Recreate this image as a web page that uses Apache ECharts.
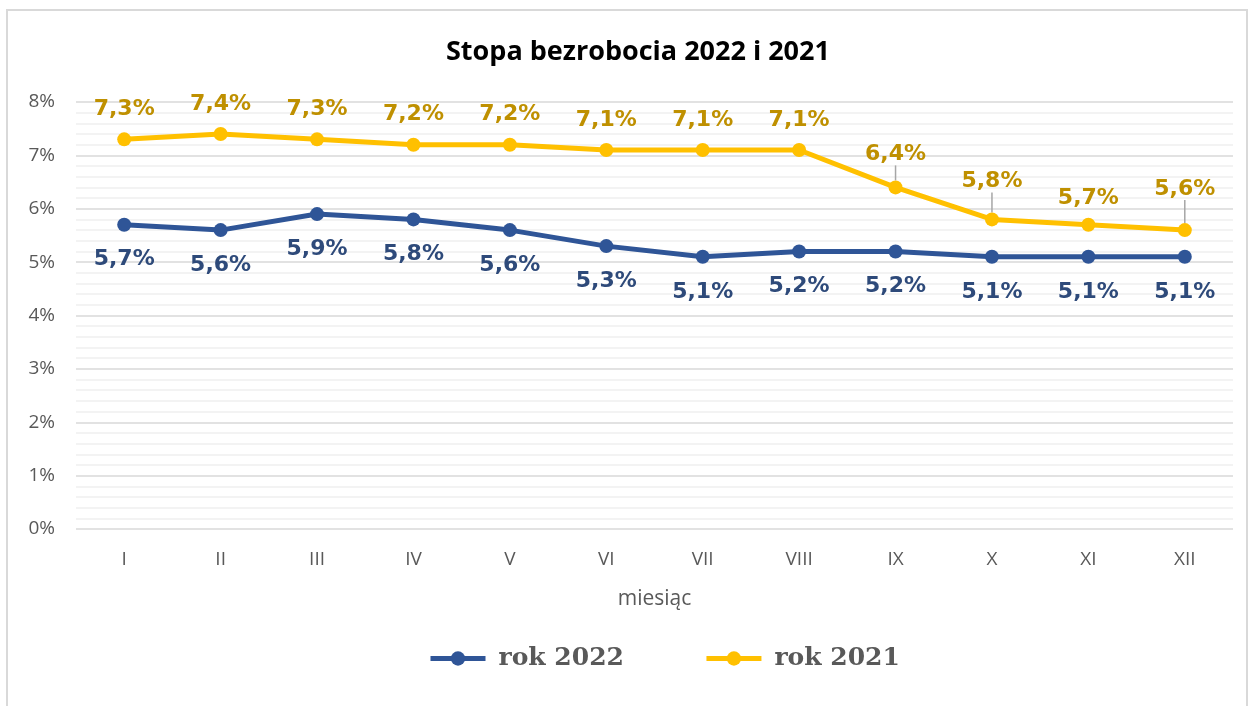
<!DOCTYPE html>
<html>
<head>
<meta charset="utf-8">
<script src="https://cdn.jsdelivr.net/npm/echarts@6/dist/echarts.min.js"></script>
<style>
html,body{margin:0;padding:0;background:#fff;}
#chart{width:1248px;height:706px;}
</style>
</head>
<body>
<div id="chart"></div>
<script>
// dane
var months = ['I','II','III','IV','V','VI','VII','VIII','IX','X','XI','XII'];
var rok2022 = [5.7, 5.6, 5.9, 5.8, 5.6, 5.3, 5.1, 5.2, 5.2, 5.1, 5.1, 5.1];
var rok2021 = [7.3, 7.4, 7.3, 7.2, 7.2, 7.1, 7.1, 7.1, 6.4, 5.8, 5.7, 5.6];
var yTicks = [0, 1, 2, 3, 4, 5, 6, 7, 8];

// przesunięcia etykiet 2021 (px), i które mają linię odniesienia
var shift2021 = {8: -3, 9: -8, 10: 4, 11: -11};
var leader2021 = [8, 9, 11];

function fmt(p){
	return String(p.value).replace('.', ',') + '%';
}

var myChart = echarts.init(document.getElementById('chart'));

var data2021 = rok2021.map(function(v, i){
	var item = {value: v};
	if (leader2021.indexOf(i) >= 0) {
		item.labelLine = {show: true};
	}
	return item;
});

var option = {
	animation: false,
	graphic: [{
		type: 'rect',
		shape: {x: 7, y: 10, width: 1240, height: 700},
		style: {fill: 'none', stroke: '#D9D9D9', lineWidth: 2},
		silent: true
	}],
	title: {
		text: 'Stopa bezrobocia 2022 i 2021',
		left: 441,
		top: 34,
		textStyle: {fontFamily: 'Open Sans', fontWeight: 'bold', fontSize: 27, color: '#000'}
	},
	grid: {left: 76, right: 15, top: 102, bottom: 177},
	xAxis: {
		type: 'category',
		data: months,
		boundaryGap: true,
		name: 'miesiąc',
		nameLocation: 'middle',
		nameGap: 60,
		nameTextStyle: {fontFamily: 'Open Sans', fontSize: 21, color: '#595959'},
		axisLine: {show: false},
		axisTick: {show: false},
		axisLabel: {margin: 21, fontFamily: 'Open Sans', fontSize: 19, color: '#595959'}
	},
	yAxis: {
		type: 'value',
		min: yTicks[0],
		max: yTicks[yTicks.length - 1],
		interval: 1,
		axisLine: {show: false},
		axisTick: {show: false},
		axisLabel: {margin: 21, fontFamily: 'Open Sans', fontSize: 19, color: '#595959', formatter: '{value}%'},
		splitLine: {lineStyle: {color: '#D9D9D9', width: 1.5}},
		minorTick: {show: false, splitNumber: 5},
		minorSplitLine: {show: true, lineStyle: {color: '#F0F0F0', width: 1.5}}
	},
	legend: {
		bottom: 30,
		left: 423,
		itemWidth: 55,
		itemHeight: 18,
		itemGap: 80,
		lineStyle: {width: 5},
		textStyle: {fontFamily: 'DejaVu Serif', fontWeight: 'bold', fontSize: 25, color: '#595959', padding: [0, 0, 0, 8]},
		data: ['rok 2022', 'rok 2021']
	},
	series: [
		{
			name: 'rok 2022',
			type: 'line',
			data: rok2022,
			symbol: 'circle',
			symbolSize: 14,
			lineStyle: {width: 5, color: '#2F5597'},
			itemStyle: {color: '#2F5597'},
			label: {
				show: true,
				position: 'bottom',
				distance: 17,
				formatter: fmt,
				fontFamily: 'DejaVu Sans',
				fontWeight: 'bold',
				fontSize: 22,
				color: '#2E4A7A'
			}
		},
		{
			name: 'rok 2021',
			type: 'line',
			data: data2021,
			symbol: 'circle',
			symbolSize: 14,
			lineStyle: {width: 5, color: '#FFC000'},
			itemStyle: {color: '#FFC000'},
			label: {
				show: true,
				position: 'top',
				distance: 12,
				formatter: fmt,
				fontFamily: 'DejaVu Sans',
				fontWeight: 'bold',
				fontSize: 22,
				color: '#BF9000'
			},
			labelLine: {show: false, lineStyle: {color: '#A6A6A6', width: 1.5}},
			labelLayout: function(p){
				var dy = shift2021[p.dataIndex];
				return dy ? {dy: dy} : {};
			}
		}
	]
};
myChart.setOption(option, true);
</script>
</body>
</html>
